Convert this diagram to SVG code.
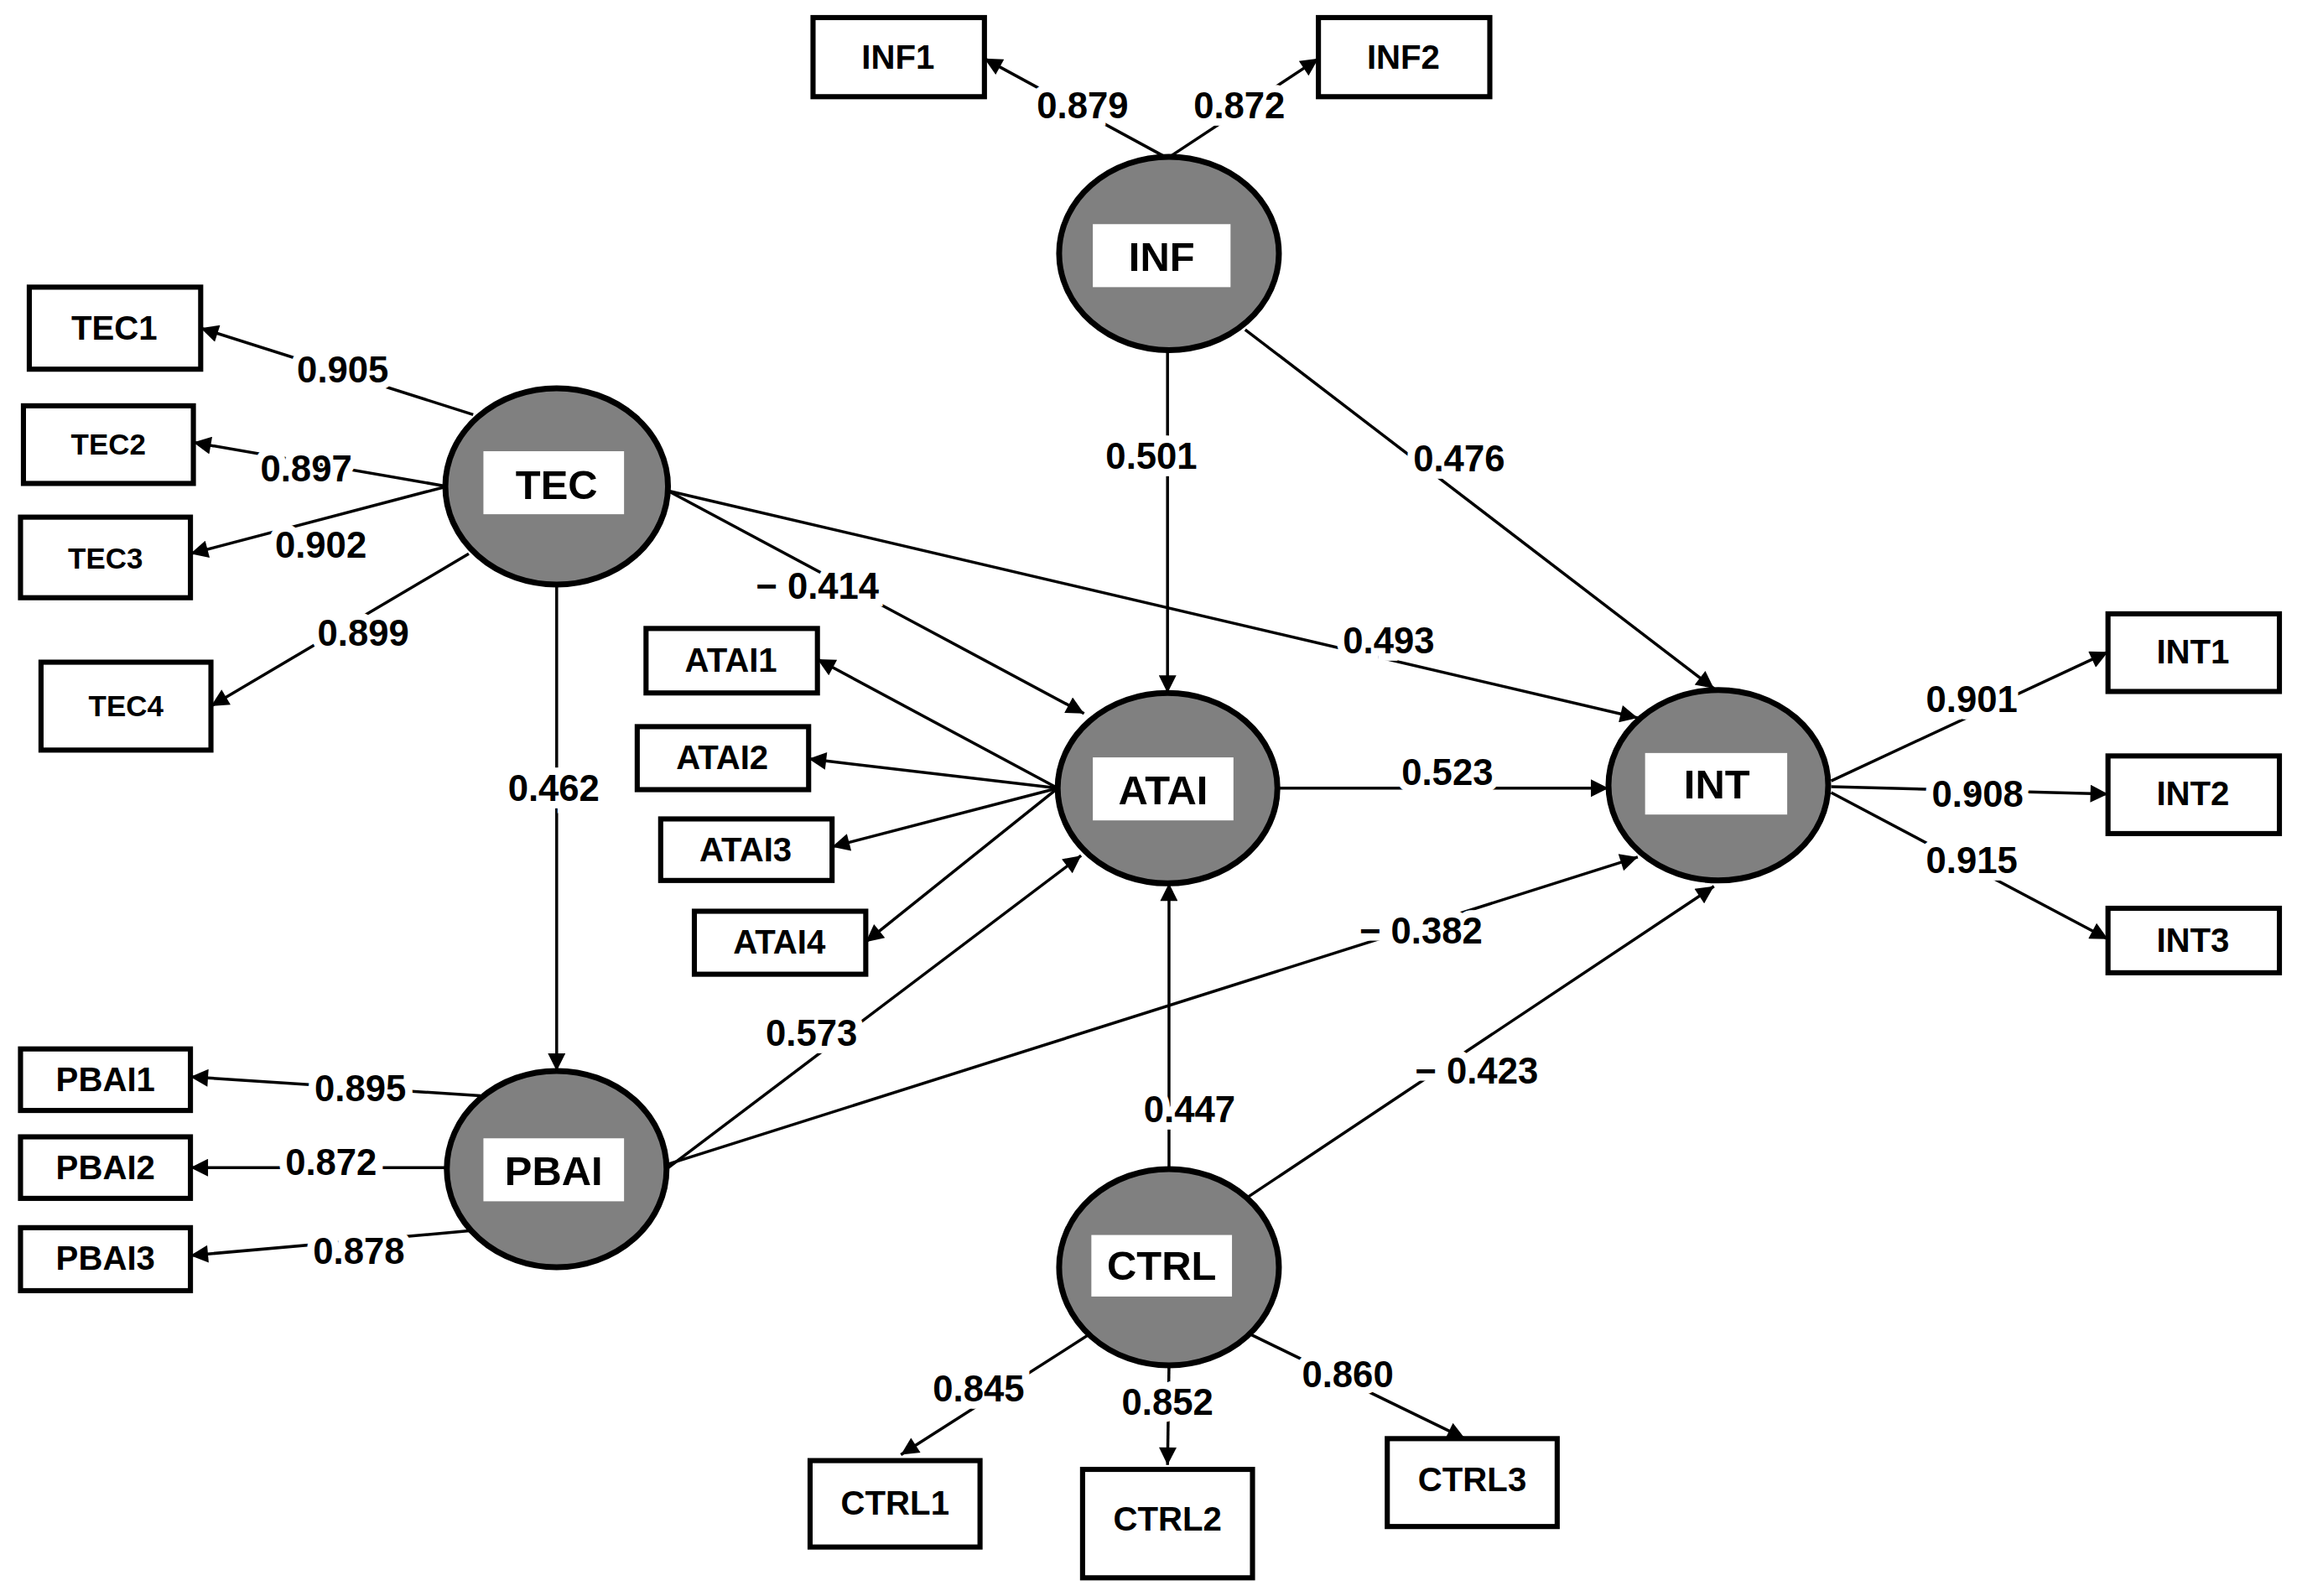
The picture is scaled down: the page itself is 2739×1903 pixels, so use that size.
<svg xmlns="http://www.w3.org/2000/svg" width="2739" height="1903" viewBox="0 0 2739 1903">
<style>
.b{fill:#fff;stroke:#000;stroke-width:3.5}
.e{fill:#808080;stroke:#000;stroke-width:4}
.w{fill:#fff;stroke:none}
.t{font-family:"Liberation Sans",Arial,sans-serif;font-weight:bold;font-size:23px;text-anchor:middle;dominant-baseline:central;fill:#000}
.n{font-size:28px}
.l{font-family:"Liberation Sans",Arial,sans-serif;font-weight:bold;font-size:25px;text-anchor:middle;dominant-baseline:central;fill:#000;stroke:#fff;stroke-width:10;paint-order:stroke}
.c line{stroke:#000;stroke-width:2;marker-end:url(#a)}
</style>
<defs><marker id="a" viewBox="0 0 10 10" refX="10" refY="5" markerWidth="8" markerHeight="6" orient="auto" markerUnits="strokeWidth"><path d="M0,0L10,5L0,10z" fill="#000"/></marker></defs>
<rect width="2739" height="1903" fill="#fff"/>
<g transform="scale(1.7468)">
<g class="c" id="connectors">
<line x1="797" y1="108" x2="672" y2="40"/>
<line x1="797" y1="108" x2="900" y2="40"/>
<line x1="323" y1="283" x2="137" y2="224"/>
<line x1="305" y1="332" x2="132" y2="302"/>
<line x1="305" y1="332" x2="130" y2="378"/>
<line x1="320" y1="378" x2="144" y2="482"/>
<line x1="456" y1="335" x2="740" y2="487"/>
<line x1="456" y1="335" x2="1118" y2="490"/>
<line x1="380" y1="399" x2="380" y2="731"/>
<line x1="797" y1="239" x2="797" y2="473"/>
<line x1="850" y1="225" x2="1170" y2="470"/>
<line x1="722" y1="538" x2="558" y2="450"/>
<line x1="722" y1="538" x2="552" y2="518"/>
<line x1="722" y1="538" x2="568" y2="578"/>
<line x1="722" y1="538" x2="591" y2="643"/>
<line x1="873" y1="538" x2="1098" y2="538"/>
<line x1="1250" y1="533" x2="1439" y2="445"/>
<line x1="1250" y1="537" x2="1439" y2="542"/>
<line x1="1250" y1="541" x2="1439" y2="641"/>
<line x1="455" y1="798" x2="738" y2="584"/>
<line x1="455" y1="795" x2="1118" y2="585"/>
<line x1="798" y1="800" x2="798" y2="603"/>
<line x1="852" y1="817" x2="1170" y2="605"/>
<line x1="328" y1="748" x2="130" y2="735"/>
<line x1="305" y1="797" x2="130" y2="797"/>
<line x1="322" y1="840" x2="130" y2="857"/>
<line x1="748" y1="908" x2="615" y2="993"/>
<line x1="798" y1="932" x2="797" y2="1000"/>
<line x1="852" y1="910" x2="1000" y2="982"/>
</g>
<g id="labels">
<text class="l" x="739" y="72">0.879</text>
<text class="l" x="846" y="72">0.872</text>
<text class="l" x="234" y="252">0.905</text>
<text class="l" x="209" y="320">0.897</text>
<text class="l" x="219" y="372">0.902</text>
<text class="l" x="248" y="432">0.899</text>
<text class="l" x="558" y="400">− 0.414</text>
<text class="l" x="948" y="437">0.493</text>
<text class="l" x="378" y="538">0.462</text>
<text class="l" x="786" y="311">0.501</text>
<text class="l" x="996" y="313">0.476</text>
<text class="l" x="988" y="527">0.523</text>
<text class="l" x="1346" y="477">0.901</text>
<text class="l" x="1350" y="542">0.908</text>
<text class="l" x="1346" y="587">0.915</text>
<text class="l" x="554" y="705">0.573</text>
<text class="l" x="970" y="635">− 0.382</text>
<text class="l" x="812" y="757">0.447</text>
<text class="l" x="1008" y="731">− 0.423</text>
<text class="l" x="246" y="743">0.895</text>
<text class="l" x="226" y="793">0.872</text>
<text class="l" x="245" y="854">0.878</text>
<text class="l" x="668" y="948">0.845</text>
<text class="l" x="797" y="957">0.852</text>
<text class="l" x="920" y="938">0.860</text>
</g>
<g id="INF1"><rect class="b" x="555" y="12" width="117" height="54"/><text class="t" x="613" y="39">INF1</text></g>
<g id="INF2"><rect class="b" x="900" y="12" width="117" height="54"/><text class="t" x="958" y="39">INF2</text></g>
<g id="TEC1"><rect class="b" x="20" y="196" width="117" height="56"/><text class="t" x="78" y="224">TEC1</text></g>
<g id="TEC2"><rect class="b" x="16" y="277" width="116" height="53"/><text class="t" x="74" y="303" style="font-size:20px">TEC2</text></g>
<g id="TEC3"><rect class="b" x="14" y="353" width="116" height="55"/><text class="t" x="72" y="381" style="font-size:20px">TEC3</text></g>
<g id="TEC4"><rect class="b" x="28" y="452" width="116" height="60"/><text class="t" x="86" y="482" style="font-size:20px">TEC4</text></g>
<g id="ATAI1"><rect class="b" x="441" y="429" width="117" height="44"/><text class="t" x="499" y="451">ATAI1</text></g>
<g id="ATAI2"><rect class="b" x="435" y="496" width="117" height="43"/><text class="t" x="493" y="517">ATAI2</text></g>
<g id="ATAI3"><rect class="b" x="451" y="559" width="117" height="42"/><text class="t" x="509" y="580">ATAI3</text></g>
<g id="ATAI4"><rect class="b" x="474" y="622" width="117" height="43"/><text class="t" x="532" y="643">ATAI4</text></g>
<g id="INT1"><rect class="b" x="1439" y="419" width="117" height="53"/><text class="t" x="1497" y="445">INT1</text></g>
<g id="INT2"><rect class="b" x="1439" y="516" width="117" height="53"/><text class="t" x="1497" y="542">INT2</text></g>
<g id="INT3"><rect class="b" x="1439" y="620" width="117" height="44"/><text class="t" x="1497" y="642">INT3</text></g>
<g id="PBAI1"><rect class="b" x="14" y="716" width="116" height="42"/><text class="t" x="72" y="737">PBAI1</text></g>
<g id="PBAI2"><rect class="b" x="14" y="776" width="116" height="42"/><text class="t" x="72" y="797">PBAI2</text></g>
<g id="PBAI3"><rect class="b" x="14" y="838" width="116" height="43"/><text class="t" x="72" y="859">PBAI3</text></g>
<g id="CTRL1"><rect class="b" x="553" y="997" width="116" height="59"/><text class="t" x="611" y="1026">CTRL1</text></g>
<g id="CTRL2"><rect class="b" x="739" y="1003" width="116" height="74"/><text class="t" x="797" y="1037">CTRL2</text></g>
<g id="CTRL3"><rect class="b" x="947" y="982" width="116" height="60"/><text class="t" x="1005" y="1010">CTRL3</text></g>
<g id="INF"><ellipse class="e" cx="798" cy="173" rx="75" ry="66"/><rect class="w" x="746" y="153" width="94" height="43" stroke="#000" stroke-width="1"/><text class="t n" x="793" y="175">INF</text></g>
<g id="TEC"><ellipse class="e" cx="380" cy="332" rx="76" ry="67"/><rect class="w" x="330" y="308" width="96" height="43"/><text class="t n" x="380" y="331">TEC</text></g>
<g id="ATAI"><ellipse class="e" cx="797" cy="538" rx="75" ry="65"/><rect class="w" x="746" y="517" width="96" height="43"/><text class="t n" x="794" y="539">ATAI</text></g>
<g id="INT"><ellipse class="e" cx="1173" cy="536" rx="75" ry="65"/><rect class="w" x="1123" y="514" width="97" height="42"/><text class="t n" x="1172" y="535">INT</text></g>
<g id="PBAI"><ellipse class="e" cx="380" cy="798" rx="75" ry="67"/><rect class="w" x="330" y="777" width="96" height="43"/><text class="t n" x="378" y="799">PBAI</text></g>
<g id="CTRL"><ellipse class="e" cx="798" cy="865" rx="75" ry="67"/><rect class="w" x="745" y="843" width="96" height="42"/><text class="t n" x="793" y="864">CTRL</text></g>
</g>
</svg>
